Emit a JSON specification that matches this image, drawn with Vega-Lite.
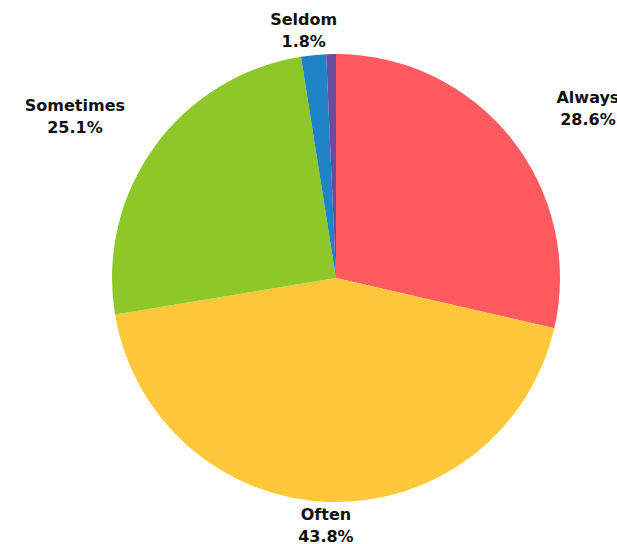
{
  "$schema": "https://vega.github.io/schema/vega-lite/v6.json",
  "autosize": {"type": "none"},
  "width": 562,
  "height": 532,
  "padding": {"left": 55, "top": 12, "right": 0, "bottom": 0},
  "background": "white",
  "config": {"view": {"stroke": null}},
  "data": {
    "values": [
      {"cat": "Always", "pct": 28.6},
      {"cat": "Often", "pct": 43.8},
      {"cat": "Sometimes", "pct": 25.1},
      {"cat": "Seldom", "pct": 1.8},
      {"cat": "Never", "pct": 0.7}
    ]
  },
  "transform": [
    {"window": [{"op": "row_number", "as": "idx"}]},
    {"stack": "pct", "groupby": [], "sort": [{"field": "idx", "order": "ascending"}], "as": ["c0", "c1"]}
  ],
  "layer": [
    {
      "mark": {"type": "arc", "outerRadius": 224},
      "encoding": {
        "theta": {"field": "c0", "type": "quantitative", "scale": {"domain": [0, 100]}},
        "theta2": {"field": "c1"},
        "color": {
          "field": "cat",
          "type": "nominal",
          "scale": {
            "domain": ["Always", "Often", "Sometimes", "Seldom", "Never"],
            "range": ["#FF5A5F", "#FFC83A", "#8DC828", "#1E84C6", "#6B4C9A"]
          },
          "legend": null
        }
      }
    },
    {
      "transform": [
        {"filter": "datum.pct >= 1"},
        {"calculate": "PI * (datum.c0 + datum.c1) / 100", "as": "t"},
        {"calculate": "322 * sin(datum.t)", "as": "hx"},
        {"calculate": "248 * cos(datum.t) + 24 * pow(sin(datum.t), 2) * (cos(datum.t) >= 0 ? 1 : -1)", "as": "hy"},
        {"calculate": "atan2(datum.hx, datum.hy)", "as": "phi"},
        {"calculate": "sqrt(datum.hx * datum.hx + datum.hy * datum.hy)", "as": "r"},
        {"calculate": "datum.cat + '\\n' + format(datum.pct, '.1f') + '%'", "as": "label"}
      ],
      "mark": {
        "type": "text",
        "font": "DejaVu Sans",
        "fontWeight": "bold",
        "fontSize": 16,
        "lineHeight": 22,
        "lineBreak": "\n",
        "align": "center",
        "baseline": "middle",
        "dy": -11,
        "color": "#111111"
      },
      "encoding": {
        "theta": {"field": "phi", "type": "quantitative", "scale": null},
        "radius": {"field": "r", "type": "quantitative", "scale": null},
        "text": {"field": "label", "type": "nominal"}
      }
    }
  ]
}
